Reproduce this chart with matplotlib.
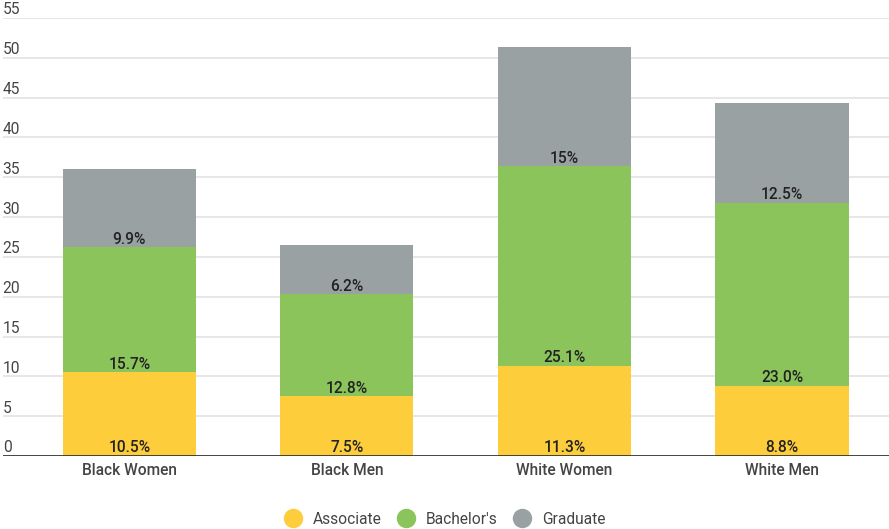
import matplotlib
matplotlib.use("Agg")
import matplotlib.pyplot as plt
import numpy as np
from matplotlib.lines import Line2D

plt.rcParams['font.family'] = ['Roboto', 'DejaVu Sans']

# data
groups = ['Black Women', 'Black Men', 'White Women', 'White Men']
associate = [10.5, 7.5, 11.3, 8.8]
bachelors = [15.7, 12.8, 25.1, 23.0]
graduate = [9.9, 6.2, 15.0, 12.5]
grad_labels = ['9.9%', '6.2%', '15%', '12.5%']
series_names = ["Associate", "Bachelor's", "Graduate"]
colors = ['#fdcd3b', '#8bc45a', '#9aa1a2']

fig = plt.figure(figsize=(8.89, 5.29), dpi=100)
ax = fig.add_axes([0.003, (529 - 456) / 529, 0.997, (456 - 18) / 529])

x = np.arange(len(groups))
w = 0.612
bottom = np.zeros(len(groups))
all_labels = [[f'{v:.1f}%' for v in associate],
              [f'{v:.1f}%' for v in bachelors],
              grad_labels]
for vals, col, labs in zip([associate, bachelors, graduate], colors, all_labels):
    ax.bar(x, vals, w, bottom=bottom, color=col, zorder=3)
    for xi, b, lab in zip(x, bottom, labs):
        ax.text(xi, b + 0.45, lab, ha='center', va='baseline', fontsize=11.2,
                color='#222222', fontweight='medium', zorder=4)
    bottom = bottom + np.array(vals)

ax.set_xlim(-0.582, 3.492)
ax.set_ylim(0, 55)
yt = np.arange(0, 56, 5)
for v in yt:
    if v > 0:
        ax.axhline(v, color='#e3e3e3', lw=1.2, zorder=1)
    ax.text(0.0, v + 0.45, str(v), transform=ax.get_yaxis_transform(),
            ha='left', va='baseline', fontsize=11.2, color='#444444')
ax.axhline(0, color='#333333', lw=2, zorder=5)

ax.set_yticks([])
ax.set_xticks(x)
ax.set_xticklabels(groups, fontsize=11.2, color='#444444', fontweight='medium')
ax.tick_params(axis='x', length=0, pad=5)
for s in ax.spines.values():
    s.set_visible(False)

handles = [Line2D([0], [0], marker='o', color='none', markerfacecolor=c,
                  markeredgewidth=0, markersize=14, lw=0) for c in colors]
fig.legend(handles, series_names, loc='center', bbox_to_anchor=(0.5, (529 - 519) / 529),
           ncol=3, frameon=False, fontsize=11.2, handletextpad=0.7, columnspacing=0.95,
           handlelength=1.2, labelcolor='#444444')

fig.savefig('out.png', dpi=100)
